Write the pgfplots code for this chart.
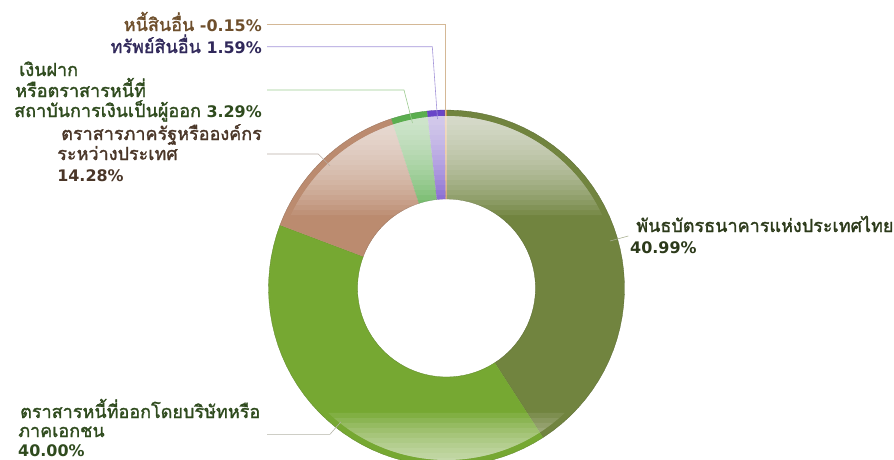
\documentclass[border=0pt]{standalone}
\usepackage{fontspec}
\setmainfont{DejaVu Sans}
\newfontfamily\thai[Script=Thai, Scale=1.13, AutoFakeBold=1.6]{Loma}
\usepackage{pgfplots}
\pgfplotsset{compat=1.18}
\usepackage{pgfplotstable}
\usetikzlibrary{calc}

\definecolor{cOlive}{HTML}{71843F}
\definecolor{cGreen}{HTML}{76A832}
\definecolor{cBrown}{HTML}{BB8B6F}
\definecolor{cLgreen}{HTML}{5BAE4F}
\definecolor{cPurple}{HTML}{6A45C8}
\definecolor{cOrange}{HTML}{E0902E}
\definecolor{tBrown}{HTML}{6E4F2C}
\definecolor{tPurple}{HTML}{30285A}
\definecolor{tGreen}{HTML}{2F4B1E}
\definecolor{tDbrown}{HTML}{4A3628}
\definecolor{tOlive}{HTML}{2C3A1A}
\definecolor{lBrown}{HTML}{D4B896}
\definecolor{lPurple}{HTML}{A394D8}
\definecolor{lGreen}{HTML}{9CCB90}
\definecolor{lGrey}{HTML}{B8ACA4}
\definecolor{lOlive}{HTML}{A8B090}
\definecolor{lGreyB}{HTML}{B4B4A8}

% slice values (percent)
\pgfplotstableread{
value
40.99
40.00
14.28
3.29
1.59
-0.15
}\slicedata
\pgfplotstablegetelem{0}{value}\of\slicedata\let\vA\pgfplotsretval
\pgfplotstablegetelem{1}{value}\of\slicedata\let\vB\pgfplotsretval
\pgfplotstablegetelem{2}{value}\of\slicedata\let\vC\pgfplotsretval
\pgfplotstablegetelem{3}{value}\of\slicedata\let\vD\pgfplotsretval
\pgfplotstablegetelem{4}{value}\of\slicedata\let\vE\pgfplotsretval
\pgfplotstablegetelem{5}{value}\of\slicedata\let\vF\pgfplotsretval
\pgfmathsetmacro\tot{abs(\vA)+abs(\vB)+abs(\vC)+abs(\vD)+abs(\vE)+abs(\vF)}
\pgfmathsetmacro\aA{90}
\pgfmathsetmacro\aB{\aA-abs(\vA)*360/\tot}
\pgfmathsetmacro\aC{\aB-abs(\vB)*360/\tot}
\pgfmathsetmacro\aD{\aC-abs(\vC)*360/\tot}
\pgfmathsetmacro\aE{\aD-abs(\vD)*360/\tot}
\pgfmathsetmacro\aF{\aE-abs(\vE)*360/\tot}
\pgfmathsetmacro\aG{\aF-abs(\vF)*360/\tot}

\def\cx{446.5}
\def\cy{288}
\def\Ro{178}
\def\Ri{89}
\def\Rg{172}

\newcommand\slice[3]{%
  \addplot[fill=#3, draw=#3!80!black, line width=0.3pt, domain=0:3, samples=121, variable=\t]
  ({\cx + (\Ro - (\Ro-\Ri)*min(max(\t-1,0),1))*cos(#1 + (#2-#1)*min(\t,1) + (#1-#2)*max(\t-2,0))},
   {\cy - (\Ro - (\Ro-\Ri)*min(max(\t-1,0),1))*sin(#1 + (#2-#1)*min(\t,1) + (#1-#2)*max(\t-2,0))});
}

\tikzset{lab/.style={inner sep=0pt, font=\fontsize{16}{20}\selectfont\bfseries}}

\begin{document}
\begin{tikzpicture}
\useasboundingbox (0,0) rectangle (894bp,460bp);
\clip (0,0) rectangle (894bp,460bp);
\begin{axis}[at={(0,0)}, anchor=south west, scale only axis,
  width=894bp, height=460bp, xmin=0, xmax=894, ymin=0, ymax=460,
  y dir=reverse, hide axis, clip=true]
\slice{\aA}{\aB}{cOlive}
\slice{\aB}{\aC}{cGreen}
\slice{\aC}{\aD}{cBrown}
\slice{\aD}{\aE}{cLgreen}
\slice{\aE}{\aF}{cPurple}
\slice{\aF}{\aG}{cOrange}
% gloss, top
\pgfplotsinvokeforeach{215,210,...,120}{
  \pgfmathsetmacro\gph{asin((\cy-#1)/\Rg)}
  \addplot[fill=white, fill opacity=0.067, draw=none, domain=\gph:180-\gph, samples=40]
    ({\cx+\Rg*cos(x)},{\cy-\Rg*sin(x)});
}
% gloss, bottom
\pgfplotsinvokeforeach{413,418,...,458}{
  \pgfmathsetmacro\gph{asin((#1-\cy)/\Rg)}
  \addplot[fill=white, fill opacity=0.088, draw=none, domain=180+\gph:360-\gph, samples=40]
    ({\cx+\Rg*cos(x)},{\cy-\Rg*sin(x)});
}
% leader lines
\addplot[lBrown, line width=0.6pt] coordinates {(267,24.3) (445.7,24.3) (445.7,116)};
\addplot[lPurple, line width=0.6pt] coordinates {(267,46.7) (432.3,46.7) (437.5,119)};
\addplot[lGreen, line width=0.6pt] coordinates {(267,90) (404,90) (412.5,123)};
\addplot[lGrey, line width=0.6pt] coordinates {(267,154) (318.3,154) (330,165.7)};
\addplot[lOlive, line width=0.6pt] coordinates {(610,241) (628.3,236)};
\addplot[lGreyB, line width=0.6pt] coordinates {(267,434.3) (330,434.3) (341,421.7)};
% labels
\node[lab, tBrown, anchor=base east] at (axis cs:262,31) {{\thai หนี้สินอื่น} -0.15\%};
\node[lab, tPurple, anchor=base east] at (axis cs:262,53) {{\thai ทรัพย์สินอื่น} 1.59\%};
\node[lab, tGreen, anchor=base east] (L3) at (axis cs:262,117) {{\thai สถาบันการเงินเป็นผู้ออก} 3.29\%};
\node[lab, tGreen, anchor=base west] at ($(L3.base west)+(5bp,41bp)$) {\thai เงินฝาก};
\node[lab, tGreen, anchor=base west] at ($(L3.base west)+(1bp,20bp)$) {\thai หรือตราสารหนี้ที่};
\node[lab, tDbrown, anchor=base east] (L4) at (axis cs:262,140) {\thai ตราสารภาครัฐหรือองค์กร};
\node[lab, tDbrown, anchor=base west] at ($(L4.base west)+(-4bp,-20bp)$) {\thai ระหว่างประเทศ};
\node[lab, tDbrown, anchor=base west] at ($(L4.base west)+(-4bp,-41bp)$) {14.28\%};
\node[lab, tOlive, anchor=base west] at (axis cs:636,232) {\thai พันธบัตรธนาคารแห่งประเทศไทย};
\node[lab, tOlive, anchor=base west] at (axis cs:630,253.5) {40.99\%};
\node[lab, tGreen, anchor=base west] at (axis cs:20,418) {\thai ตราสารหนี้ที่ออกโดยบริษัทหรือ};
\node[lab, tGreen, anchor=base west] at (axis cs:18,437) {\thai ภาคเอกชน};
\node[lab, tGreen, anchor=base west] at (axis cs:18,456) {40.00\%};
\end{axis}
\end{tikzpicture}
\end{document}
